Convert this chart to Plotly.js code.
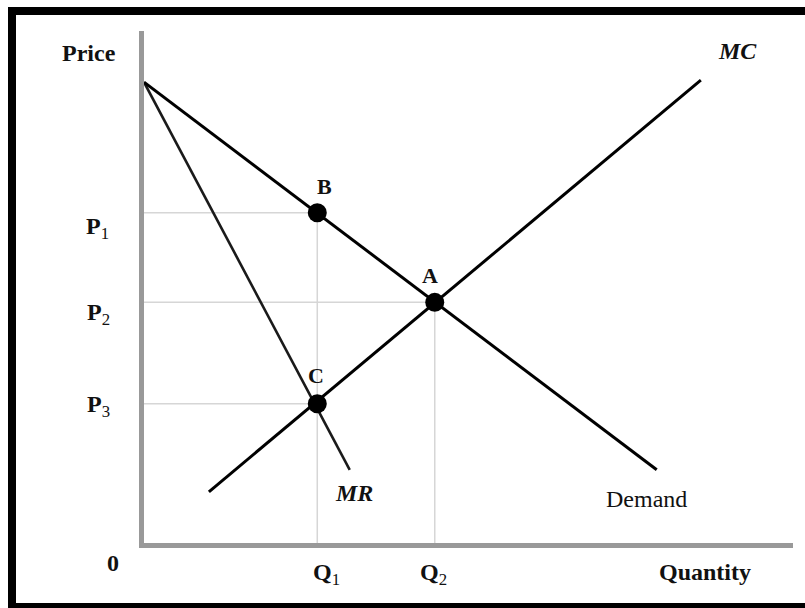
<!DOCTYPE html>
<html>
<head>
<meta charset="utf-8">
<script src="https://cdn.plot.ly/plotly-3.0.1.min.js"></script>
<style>
  html, body { margin: 0; padding: 0; background: #fff; }
  #chart { width: 805px; height: 608px; }
</style>
</head>
<body>
<div id="chart"></div>
<script>
// Monopoly diagram: demand, marginal revenue and marginal cost curves
const demandQ = [0, 7.9];
const demandP = [9.0, 1.43];
const mrQ = [0, 3.17];
const mrP = [9.0, 1.43];
const mcQ = [1.0, 8.58];
const mcP = [1.0, 9.04];

// Key quantities and prices
const q1 = 2.67;
const q2 = 4.48;
const p1 = 6.45;
const p2 = 4.7;
const p3 = 2.72;

// Labelled points
const pointNames = ['B', 'A', 'C'];
const pointQ = [q1, q2, q1];
const pointP = [p1, p2, p3];

// Plot area in page pixels
const W = 805, H = 608;
const L = 144, R = 793, T = 31, B = 543;
const fx = x => (x - L) / (R - L);
const fy = y => (B - y) / (B - T);

const serif = '"Liberation Serif", "Times New Roman", serif';
const guide = { color: '#d6d6d6', width: 1.5 };

const traces = [
  // reference lines from the axes to the points
  { x: [0, q1], y: [p1, p1], mode: 'lines', line: guide },
  { x: [0, q2], y: [p2, p2], mode: 'lines', line: guide },
  { x: [0, q1], y: [p3, p3], mode: 'lines', line: guide },
  { x: [q1, q1], y: [0, p1], mode: 'lines', line: guide },
  { x: [q2, q2], y: [0, p2], mode: 'lines', line: guide },
  // curves
  { x: mrQ, y: mrP, mode: 'lines', name: 'MR', line: { color: '#1a1a1a', width: 2.6 } },
  { x: demandQ, y: demandP, mode: 'lines', name: 'Demand', line: { color: '#000', width: 3 } },
  { x: mcQ, y: mcP, mode: 'lines', name: 'MC', line: { color: '#000', width: 3 } },
  // points
  { x: pointQ, y: pointP, mode: 'markers', text: pointNames,
    marker: { color: '#000', size: 19, symbol: 'circle' } }
];

// Text labels placed in page pixels
const labels = [
  { t: '<b>Price</b>', x: 89, y: 53, s: 24 },
  { t: '<b><i>MC</i></b>', x: 737, y: 51, s: 24 },
  { t: '<b>B</b>', x: 324, y: 186, s: 22 },
  { t: '<b>A</b>', x: 430, y: 275, s: 22 },
  { t: '<b>C</b>', x: 316, y: 375, s: 22 },
  { t: '<b><i>MR</i></b>', x: 354, y: 493, s: 24 },
  { t: 'Demand', x: 646, y: 499, s: 24 },
  { t: '<b>Quantity</b>', x: 705, y: 572, s: 24 },
  { t: '<b>0</b>', x: 113, y: 563, s: 24 },
  { t: '<b>Q</b><sub>1</sub>', x: 326, y: 574, s: 24 },
  { t: '<b>Q</b><sub>2</sub>', x: 433, y: 574, s: 24 },
  { t: '<b>P</b><sub>1</sub>', x: 97, y: 228, s: 24 },
  { t: '<b>P</b><sub>2</sub>', x: 98, y: 314, s: 24 },
  { t: '<b>P</b><sub>3</sub>', x: 98, y: 406, s: 24 }
];

const annotations = labels.map(a => ({
  text: a.t, xref: 'paper', yref: 'paper', x: fx(a.x), y: fy(a.y),
  xanchor: 'center', yanchor: 'middle', showarrow: false,
  font: { family: serif, size: a.s, color: '#111' }
}));

// Black frame on the left, top and bottom
const band = (x0, y0, x1, y1) => ({
  type: 'rect', xref: 'paper', yref: 'paper', layer: 'above',
  x0: fx(x0), x1: fx(x1), y0: fy(y0), y1: fy(y1),
  fillcolor: '#000', line: { width: 0 }
});
const shapes = [
  band(8, 7, W, 15),
  band(8, 7, 16, H),
  band(8, 603, W, H)
];

const layout = {
  width: W, height: H,
  margin: { l: L, r: W - R, t: T, b: H - B, pad: 0 },
  paper_bgcolor: '#fff', plot_bgcolor: '#fff',
  showlegend: false,
  xaxis: { range: [0, 10], showgrid: false, zeroline: false, showticklabels: false,
           ticks: '', showline: true, linecolor: '#999', linewidth: 5, fixedrange: true },
  yaxis: { range: [0, 10], showgrid: false, zeroline: false, showticklabels: false,
           ticks: '', showline: true, linecolor: '#999', linewidth: 5, fixedrange: true },
  annotations: annotations,
  shapes: shapes,
  hovermode: false
};

Plotly.newPlot('chart', traces, layout, { displayModeBar: false, staticPlot: true });
</script>
</body>
</html>
